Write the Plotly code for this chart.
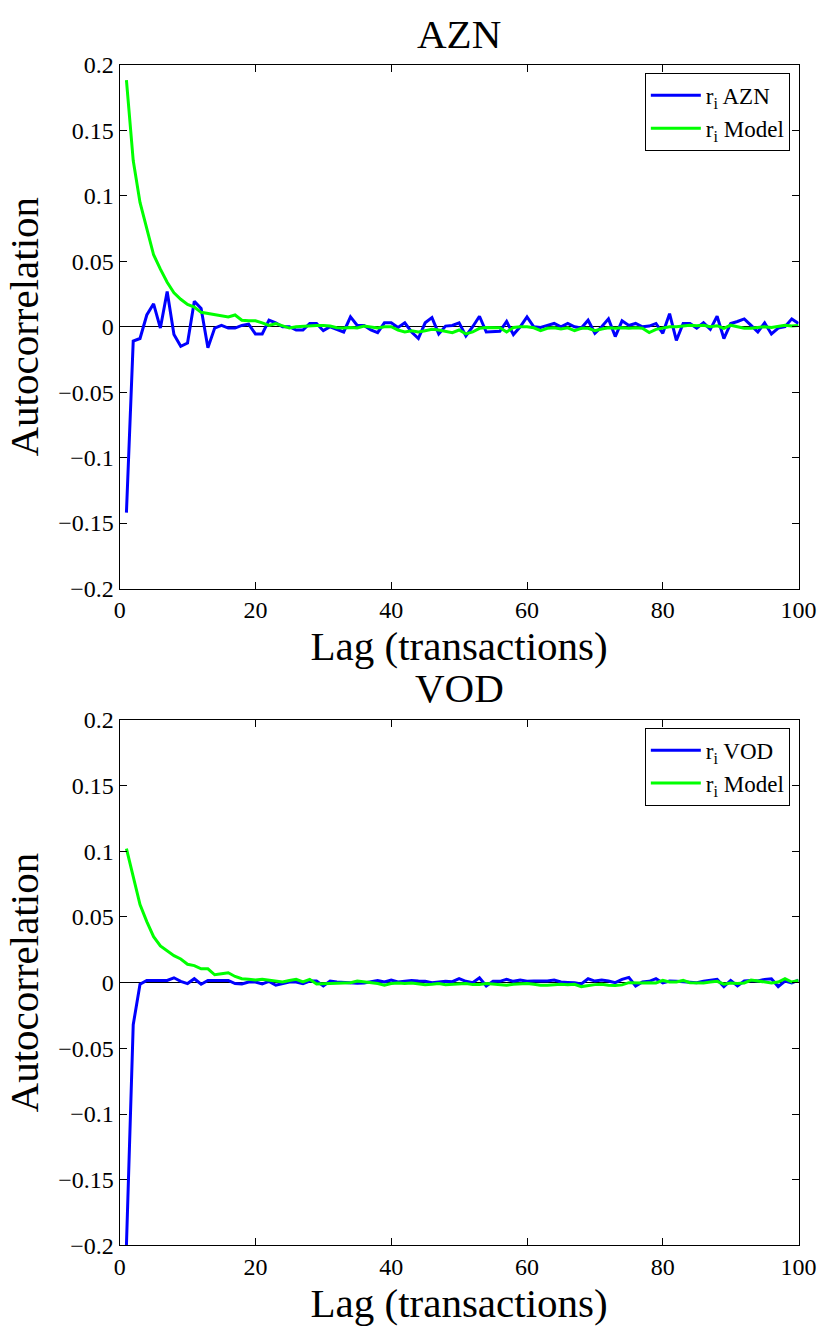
import plotly.graph_objects as go

lags = list(range(1, 101))

azn_data = [
    -0.142, -0.011, -0.009, 0.009, 0.0175, -0.001, 0.027, -0.006, -0.015, -0.0125,
    0.0195, 0.014, -0.016, -0.001, 0.001, -0.001, -0.001, 0.001, 0.002, -0.0055,
    -0.0055, 0.005, 0.003, 0.0, 0.0, -0.0025, -0.0025, 0.0025, 0.0025, -0.003,
    0.0, -0.002, -0.004, 0.0075, 0.001, 0.001, -0.0025, -0.0045, 0.003, 0.003,
    -0.0005, 0.003, -0.004, -0.009, 0.003, 0.007, -0.0055, 0.0005, 0.001, 0.003,
    -0.007, 0.0, 0.008, -0.004, -0.004, -0.0035, 0.004, -0.006, 0.0, 0.0075,
    0.0, -0.0005, 0.001, 0.0025, 0.0, 0.0025, 0.0, -0.001, 0.005, -0.005,
    0.0, 0.006, -0.0075, 0.0045, 0.001, 0.0025, 0.0, 0.0005, 0.0025, -0.005,
    0.01, -0.0105, 0.0025, 0.0025, -0.001, 0.003, -0.002, 0.008, -0.009, 0.0025,
    0.004, 0.006, 0.001, -0.004, 0.003, -0.0055, -0.001, 0.0, 0.006, 0.0025,
]

azn_model = [
    0.1885, 0.127, 0.095, 0.075, 0.055, 0.044, 0.034, 0.026, 0.021, 0.017,
    0.015, 0.011, 0.010, 0.0095, 0.008, 0.0075, 0.009, 0.005, 0.0045, 0.0045,
    0.003, 0.001, 0.0025, 0.0005, -0.001, 0.0, 0.0005, 0.001, 0.001, 0.001,
    0.0005, -0.0008, -0.001, -0.0005, -0.001, 0.0005, -0.0005, -0.001, 0.0, 0.0,
    -0.0025, -0.004, -0.003, -0.004, -0.003, -0.002, -0.0025, -0.0035, -0.0045, -0.0025,
    -0.0055, -0.004, -0.0012, -0.0005, -0.0008, -0.0008, -0.004, -0.0005, 0.0, 0.0,
    -0.0008, -0.003, -0.0012, -0.0008, -0.0017, -0.0008, -0.003, -0.0012, -0.0012, -0.003,
    -0.0017, -0.0008, -0.0012, -0.0008, -0.0012, -0.0008, -0.0012, -0.0045, -0.002, -0.0008,
    0.0, 0.0, 0.0008, 0.0012, 0.0008, 0.0012, 0.0, 0.0008, -0.0012, 0.0012,
    0.0, -0.0012, -0.0012, -0.0005, 0.0, -0.0005, 0.0005, 0.0012, 0.0005, 0.001,
]

vod_data = [
    -0.2, -0.032, -0.0012, 0.0017, 0.0017, 0.0017, 0.0017, 0.0037, 0.001, -0.0007,
    0.003, -0.0012, 0.0017, 0.0017, 0.0017, 0.0017, -0.0007, -0.001, 0.0005, 0.0005,
    -0.001, 0.001, -0.002, -0.0007, 0.0005, 0.0005, -0.0007, 0.0012, 0.0012, -0.0025,
    0.0012, 0.0005, 0.0, -0.0002, -0.0005, -0.0002, 0.0005, 0.0017, 0.0005, 0.002,
    0.0005, 0.0012, 0.0017, 0.0012, 0.001, 0.0, 0.0005, 0.001, 0.0007, 0.003,
    0.001, 0.0, 0.0037, -0.0025, 0.001, 0.001, 0.0025, 0.001, 0.002, 0.001,
    0.0012, 0.001, 0.0012, 0.002, 0.0005, 0.0002, 0.0, -0.001, 0.003, 0.0012,
    0.002, 0.0012, 0.0, 0.0025, 0.004, -0.0025, 0.0005, 0.001, 0.003, -0.0002,
    0.0012, 0.001, 0.0005, 0.0002, 0.0, 0.001, 0.0017, 0.0025, -0.003, 0.0017,
    -0.0025, 0.0012, 0.0017, 0.0012, 0.0025, 0.003, -0.003, 0.0012, -0.0002, 0.002,
]

vod_model = [
    0.102, 0.081, 0.0595, 0.0465, 0.035, 0.028, 0.024, 0.0205, 0.018, 0.014,
    0.013, 0.0105, 0.0105, 0.006, 0.0067, 0.0075, 0.0047, 0.003, 0.0025, 0.002,
    0.0025, 0.002, 0.0012, 0.0005, 0.0017, 0.0025, 0.0005, 0.0025, -0.001, -0.0008,
    -0.0002, -0.0002, 0.0, 0.0, 0.0012, 0.0005, 0.0, -0.0007, -0.002, -0.0007,
    -0.0002, -0.0007, -0.0002, -0.0007, -0.0015, -0.0012, -0.0007, -0.0015, -0.0012, -0.0007,
    -0.0007, -0.0015, -0.0015, -0.0007, -0.0012, -0.002, -0.002, -0.0012, -0.0007, -0.0007,
    -0.0012, -0.002, -0.002, -0.0015, -0.0012, -0.0015, -0.0012, -0.003, -0.002, -0.0015,
    -0.0012, -0.002, -0.0022, -0.0017, 0.0, -0.0002, -0.0002, 0.0, -0.0002, 0.0017,
    0.0005, 0.0005, 0.0017, 0.0, 0.0, -0.0002, 0.0005, 0.001, -0.0012, -0.0002,
    -0.0007, -0.0002, 0.002, 0.0012, 0.0005, -0.0002, 0.0005, 0.003, 0.0005, 0.0017,
]

x_tickvals = [0, 20, 40, 60, 80, 100]
x_ticktext = ["0", "20", "40", "60", "80", "100"]
y_tickvals = [-0.2, -0.15, -0.1, -0.05, 0, 0.05, 0.1, 0.15, 0.2]
y_ticktext = ["\u22120.2", "\u22120.15", "\u22120.1", "\u22120.05", "0", "0.05", "0.1", "0.15", "0.2"]

panel_titles = ["AZN", "VOD"]
x_title = "Lag (transactions)"
y_title = "Autocorrelation"

FONT = "Liberation Serif, Times New Roman, serif"
W, H = 836, 1329
BLUE = "#0000ff"
GREEN = "#00ff00"


def fx(p):
    return p / W


def fy(p):
    return 1 - p / H


fig = go.Figure()
fig.add_trace(go.Scatter(x=lags, y=azn_data, mode="lines", name="r<sub>i</sub> AZN",
                         line=dict(color=BLUE, width=3), xaxis="x", yaxis="y", legend="legend"))
fig.add_trace(go.Scatter(x=lags, y=azn_model, mode="lines", name="r<sub>i</sub> Model",
                         line=dict(color=GREEN, width=3), xaxis="x", yaxis="y", legend="legend"))
fig.add_trace(go.Scatter(x=lags, y=vod_data, mode="lines", name="r<sub>i</sub> VOD",
                         line=dict(color=BLUE, width=3), xaxis="x2", yaxis="y2", legend="legend2"))
fig.add_trace(go.Scatter(x=lags, y=vod_model, mode="lines", name="r<sub>i</sub> Model",
                         line=dict(color=GREEN, width=3), xaxis="x2", yaxis="y2", legend="legend2"))

xdom = [fx(117), fx(816)]
top_dom = [fy(587), fy(53)]
bot_dom = [fy(1257), fy(721)]

TICK_SIZE = 24
LABEL_SIZE = 41
TITLE_SIZE = 41


def xaxis(anchor):
    return dict(domain=xdom, anchor=anchor, range=[0, 100], tickvals=x_tickvals, ticktext=x_ticktext,
                showline=True, linecolor="black", linewidth=1, mirror="ticks",
                ticks="inside", ticklen=7, tickcolor="black", showgrid=False, zeroline=False,
                tickfont=dict(family=FONT, size=TICK_SIZE, color="black"),
                title=dict(text=x_title, font=dict(family=FONT, size=LABEL_SIZE, color="black"), standoff=0))


def yaxis(anchor, dom):
    return dict(domain=dom, anchor=anchor, range=[-0.2, 0.2], tickvals=y_tickvals, ticktext=y_ticktext,
                showline=True, linecolor="black", linewidth=1, mirror="ticks",
                ticks="inside", ticklen=7, tickcolor="black", showgrid=False,
                zeroline=True, zerolinecolor="black", zerolinewidth=1,
                tickfont=dict(family=FONT, size=TICK_SIZE, color="black"),
                title=dict(text=y_title, font=dict(family=FONT, size=LABEL_SIZE, color="black"), standoff=6))


legend_common = dict(xanchor="right", yanchor="top", bgcolor="white", bordercolor="black", borderwidth=1,
                     font=dict(family=FONT, size=23, color="black"), itemwidth=50)

fig.update_layout(
    width=W, height=H, autosize=False,
    margin=dict(l=0, r=0, t=0, b=0, pad=0),
    paper_bgcolor="white", plot_bgcolor="white",
    hovermode=False,
    xaxis=xaxis("y"), yaxis=yaxis("x", top_dom),
    xaxis2=xaxis("y2"), yaxis2=yaxis("x2", bot_dom),
    legend=dict(x=fx(807), y=fy(61), **legend_common),
    legend2=dict(x=fx(807), y=fy(729), **legend_common),
    annotations=[
        dict(text=panel_titles[0], x=(xdom[0] + xdom[1]) / 2, y=fy(21), xref="paper", yref="paper",
             xanchor="center", yanchor="middle", showarrow=False,
             font=dict(family=FONT, size=TITLE_SIZE, color="black")),
        dict(text=panel_titles[1], x=(xdom[0] + xdom[1]) / 2, y=fy(688), xref="paper", yref="paper",
             xanchor="center", yanchor="middle", showarrow=False,
             font=dict(family=FONT, size=TITLE_SIZE, color="black")),
    ],
)

# drop the browser's default 8px body margin so the figure sits at the page origin
fig.write_html("out.html", post_script="document.body.style.margin='0';",
               config={"displayModeBar": False})
